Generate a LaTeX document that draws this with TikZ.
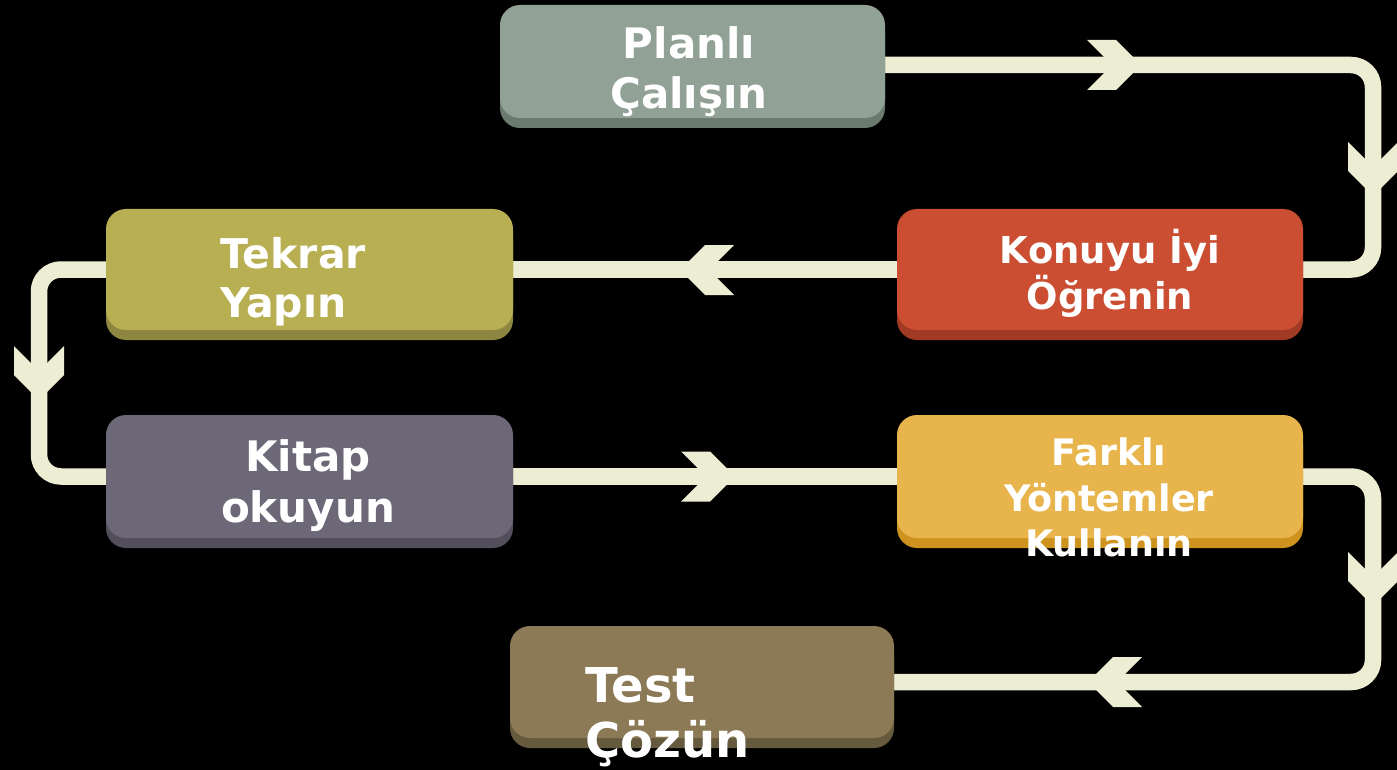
\documentclass[tikz,border=0pt]{standalone}
\usepackage{fontspec}
\setmainfont{DejaVu Sans}
\usetikzlibrary{shadows}
\definecolor{conncol}{HTML}{EDEDD3}
\definecolor{planF}{HTML}{91A195}\definecolor{planS}{HTML}{6A7A6E}
\definecolor{tekF}{HTML}{B7AF52}\definecolor{tekS}{HTML}{8D8641}
\definecolor{konF}{HTML}{CB4D32}\definecolor{konS}{HTML}{A13A25}
\definecolor{kitF}{HTML}{6D6878}\definecolor{kitS}{HTML}{524E5B}
\definecolor{farF}{HTML}{E8B54C}\definecolor{farS}{HTML}{CE921E}
\definecolor{tesF}{HTML}{8B7A55}\definecolor{tesS}{HTML}{665A3E}
\tikzset{
  stepbox/.style n args={2}{rounded corners=20pt, inner sep=0pt, fill=#1,
    drop shadow={shadow xshift=0pt, shadow yshift=-10pt, fill=#2, opacity=1}},
  conn/.style={draw=conncol, line width=16.5pt, rounded corners=22pt},
  chev/.pic={\fill[conncol] (0,0) -- (-25,-25) -- (-54,-25) -- (-29,0) -- (-54,25) -- (-25,25) -- cycle;},
  lbl/.style={text=white, font=\bfseries, inner sep=0pt, anchor=base},
  lblw/.style={lbl, anchor=base west}
}
\begin{document}
\begin{tikzpicture}[x=1pt,y=-1pt]
\fill[black] (0,0) rectangle (1397,770);
\path[use as bounding box] (0,0) rectangle (1397,770);
\coordinate (r1) at (1373,65);
\coordinate (l1) at (39,269.5);
\coordinate (r2) at (1373,476.5);
\node[minimum width=385pt, minimum height=113pt] (plan) at (692.5,61.5) {};
\node[minimum width=407pt, minimum height=121pt] (tekrar) at (309.5,269.5) {};
\node[minimum width=406pt, minimum height=121pt] (konu) at (1100,269.5) {};
\node[minimum width=407pt, minimum height=123pt] (kitap) at (309.5,476.5) {};
\node[minimum width=406pt, minimum height=123pt] (farkli) at (1100,476.5) {};
\node[minimum width=384pt, minimum height=112pt] (test) at (702,682) {};
\draw[conn] (plan.east |- r1) -- (r1) -- (r1 |- konu.east) -- (konu.east);
\draw[conn] (konu.west) -- (tekrar.east);
\draw[conn] (tekrar.west) -- (l1) -- (l1 |- kitap.west) -- (kitap.west);
\draw[conn] (kitap.east) -- (farkli.west);
\draw[conn] (farkli.east) -- (r2) -- (r2 |- test.east) -- (test.east);
\pic at (1141,65) {chev};
\pic[rotate=-90] at (1373,196) {chev};
\pic[rotate=180] at (680,270) {chev};
\pic[rotate=-90] at (39,400) {chev};
\pic at (735,476.5) {chev};
\pic[rotate=-90] at (1373,606) {chev};
\pic[rotate=180] at (1088,682) {chev};
\node[stepbox={planF}{planS}, minimum width=385pt, minimum height=113pt] at (plan) {};
\node[stepbox={tekF}{tekS}, minimum width=407pt, minimum height=121pt] at (tekrar) {};
\node[stepbox={konF}{konS}, minimum width=406pt, minimum height=121pt] at (konu) {};
\node[stepbox={kitF}{kitS}, minimum width=407pt, minimum height=123pt] at (kitap) {};
\node[stepbox={farF}{farS}, minimum width=406pt, minimum height=123pt] at (farkli) {};
\node[stepbox={tesF}{tesS}, minimum width=384pt, minimum height=112pt] at (test) {};
\node[lbl, font=\bfseries\fontsize{42}{50}\selectfont] (t1a) at (689,59) {Planlı};
\node[lbl, font=\bfseries\fontsize{42}{50}\selectfont] (t1b) at (689,109) {Çalışın};
\node[lblw, font=\bfseries\fontsize{41}{50}\selectfont] (t2a) at (220,268) {Tekrar};
\node[lblw, font=\bfseries\fontsize{41}{50}\selectfont] (t2b) at (220,317) {Yapın};
\node[lbl, font=\bfseries\fontsize{37}{44}\selectfont] (t3a) at (1110,263) {Konuyu İyi};
\node[lbl, font=\bfseries\fontsize{37}{44}\selectfont] (t3b) at (1110,309) {Öğrenin};
\node[lbl, font=\bfseries\fontsize{42}{50}\selectfont] (t4a) at (308,471) {Kitap};
\node[lbl, font=\bfseries\fontsize{42}{50}\selectfont] (t4b) at (308,522) {okuyun};
\node[lbl, font=\bfseries\fontsize{36.5}{44}\selectfont] (t5a) at (1109,465) {Farklı};
\node[lbl, font=\bfseries\fontsize{36.5}{44}\selectfont] (t5b) at (1109,511) {Yöntemler};
\node[lbl, font=\bfseries\fontsize{36.5}{44}\selectfont] (t5c) at (1109,556) {Kullanın};
\node[lblw, font=\bfseries\fontsize{48}{55}\selectfont] (t6a) at (585,702) {Test};
\node[lblw, font=\bfseries\fontsize{48}{55}\selectfont] (t6b) at (585,757) {Çözün};
\end{tikzpicture}
\end{document}
